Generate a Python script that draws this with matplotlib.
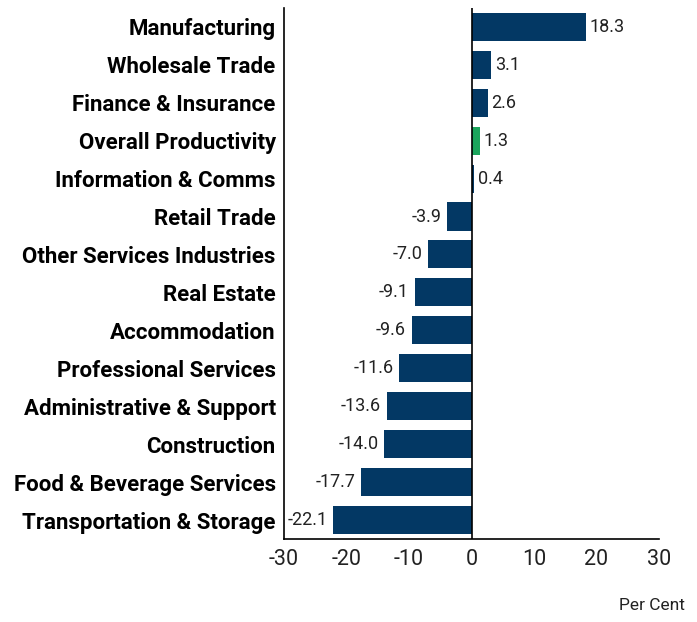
#Horizontal bar chart of productivity growth by industry
import numpy as np
import matplotlib.pyplot as plt

plt.rcParams['font.family'] = ['Roboto', 'DejaVu Sans']
plt.rcParams['axes.unicode_minus'] = False

#industries listed from bottom to top
industries = ['Transportation & Storage', 'Food & Beverage Services', 'Construction',
              'Administrative & Support', 'Professional Services', 'Accommodation',
              'Real Estate', 'Other Services Industries', 'Retail Trade',
              'Information & Comms', 'Overall Productivity', 'Finance & Insurance',
              'Wholesale Trade', 'Manufacturing']
growth = [-22.1, -17.7, -14.0, -13.6, -11.6, -9.6, -9.1, -7.0, -3.9, 0.4, 1.3, 2.6, 3.1, 18.3]

navy = '#033864'
green = '#1ba55c'
colors = [green if name == 'Overall Productivity' else navy for name in industries]

fig = plt.figure(figsize=(6.97, 6.22), dpi=100)
ax = fig.add_axes([0.4075, 0.1334, 0.538, 0.854])
y = np.arange(len(industries))
ax.barh(y, growth, height=0.74, color=colors, zorder=2)

#value labels beside each bar
for i, v in enumerate(growth):
    if v >= 0:
        ax.text(v + 0.6, i, f'{v:.1f}', va='center', ha='left', fontsize=13, color='#222222')
    else:
        ax.text(v - 0.9, i, f'{v:.1f}', va='center', ha='right', fontsize=13, color='#222222')

ax.axvline(0, color='black', linewidth=1.2, zorder=3)
ax.set_xlim(-30, 30)
ax.set_ylim(-0.5, len(industries) - 0.5)
ax.set_xticks(np.arange(-30, 31, 10))
ax.set_yticks(y)
ax.set_yticklabels(industries, fontsize=16, fontweight='bold')
ax.tick_params(axis='y', length=0, pad=6)
ax.tick_params(axis='x', labelsize=15.5, length=0, pad=7, labelcolor='#222222')
ax.spines['top'].set_visible(False)
ax.spines['right'].set_visible(False)
ax.spines['left'].set_linewidth(1.2)
ax.spines['bottom'].set_linewidth(1.2)

fig.text(0.983, 0.014, 'Per Cent', ha='right', va='bottom', fontsize=12.5, color='#222222')

plt.savefig('out.png', dpi=100)
